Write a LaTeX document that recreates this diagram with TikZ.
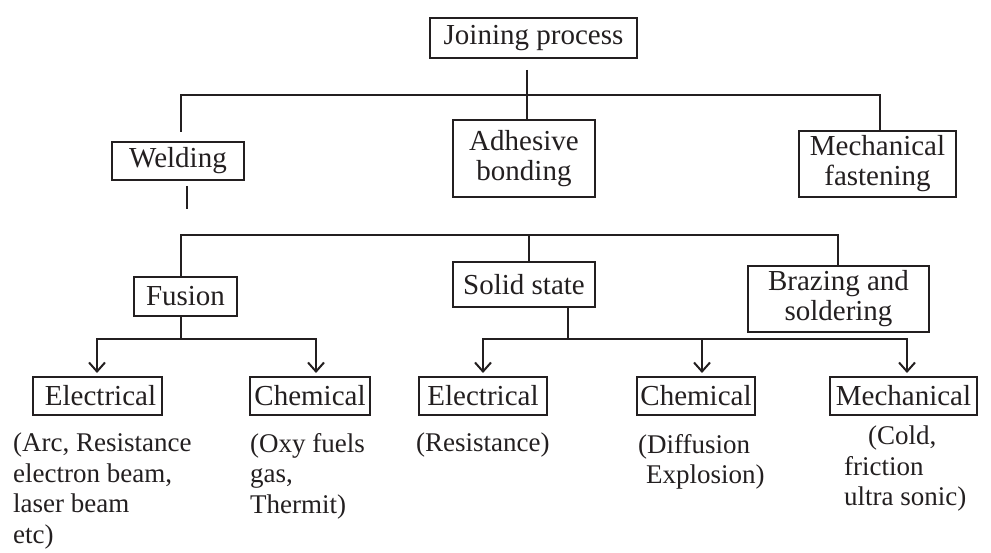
\documentclass[tikz,border=0pt]{standalone}
\usepackage{fontspec}
\setmainfont{Liberation Serif}
\usetikzlibrary{arrows.meta}
\definecolor{ink}{RGB}{35,31,32}
\begin{document}
\begin{tikzpicture}[x=1pt,y=-1pt,
  box/.style={draw=ink, line width=2pt, inner sep=0pt, align=center,
    font=\fontsize{29}{30}\selectfont, text=ink},
  desc/.style={inner sep=0pt, align=left, anchor=north west,
    font=\fontsize{27}{30.5}\selectfont, text=ink},
  link/.style={draw=ink, line width=2pt},
  arr/.style={link, -{Straight Barb[length=9pt,width=16pt,line width=2pt]}, shorten >=3pt}]
\useasboundingbox (0,0) rectangle (991,553);

% level 0
\node[box, minimum width=207pt, minimum height=40pt] (join) at (533.5,38) {Joining process};
% level 1
\node[box, minimum width=132pt, minimum height=38pt] (weld) at (178,161) {Welding};
\node[box, minimum width=142pt, minimum height=77pt] (adh) at (524,158.5) {Adhesive\\bonding};
\node[box, minimum width=157pt, minimum height=66pt] (mech) at (877.5,164) {Mechanical\\fastening};
% level 2
\node[box, minimum width=103pt, minimum height=39pt] (fus) at (185.5,296.5) {Fusion};
\node[box, minimum width=142pt, minimum height=45pt] (sol) at (524,284.5) {Solid state};
\node[box, minimum width=181pt, minimum height=66pt] (braz) at (838.5,299) {Brazing and\\soldering};
% level 3
\node[box, minimum width=129pt, minimum height=38pt] (el1) at (97.5,396) {\hspace*{6pt}Electrical};
\node[box, minimum width=120pt, minimum height=38pt] (ch1) at (310,396) {Chemical};
\node[box, minimum width=128pt, minimum height=38pt] (el2) at (483,396) {Electrical};
\node[box, minimum width=118pt, minimum height=38pt] (ch2) at (696,396) {Chemical};
\node[box, minimum width=147pt, minimum height=38pt] (mec) at (903.5,396) {Mechanical};

% descriptions
\node[desc] (d1) at (13,433) {(Arc, Resistance\\electron beam,\\laser beam\\etc)};
\node[desc] (d2) at (250,433) {(Oxy fuels\\gas,\\Thermit)};
\node[desc] (d3) at (416,433) {(Resistance)};
\node[desc] (d4) at (638,434) {(Diffusion\\\hspace*{8pt}Explosion)};
\node[desc] (d5) at (844,426) {\hspace*{24pt}(Cold,\\friction\\ultra sonic)};

% connectors, level 0 -> 1
\coordinate (jtop) at (527,70);
\coordinate (bar1) at (527,95);
\coordinate (b1L) at (181,95);
\coordinate (b1R) at (880,95);
\coordinate (wtop) at (181,132);
\draw[link] (jtop) -- (bar1);
\draw[link] (wtop) -- (b1L) -- (b1R) -- (b1R |- mech.north);
\draw[link] (bar1) -- (bar1 |- adh.north);

% stub below welding
\coordinate (ws1) at (187,186);
\coordinate (ws2) at (187,209);
\draw[link] (ws1) -- (ws2);

% level 1 -> 2
\coordinate (b2L) at (181,235);
\coordinate (b2M) at (529,235);
\coordinate (b2R) at (838,235);
\draw[link] (b2L |- fus.north) -- (b2L) -- (b2R) -- (b2R |- braz.north);
\draw[link] (b2M) -- (b2M |- sol.north);

% fusion -> children
\coordinate (fx) at (181,339);
\coordinate (fL) at (97,339);
\coordinate (fR) at (316,339);
\draw[link] (fx |- fus.south) -- (fx);
\draw[arr] (fx) -- (fL) -- (fL |- el1.north);
\draw[arr] (fx) -- (fR) -- (fR |- ch1.north);

% solid state -> children
\coordinate (sx) at (568,339);
\coordinate (sL) at (483,339);
\coordinate (sM) at (702,339);
\coordinate (sR) at (907,339);
\draw[link] (sx |- sol.south) -- (sx);
\draw[arr] (sx) -- (sL) -- (sL |- el2.north);
\draw[arr] (sx) -- (sR) -- (sR |- mec.north);
\draw[arr] (sM) -- (sM |- ch2.north);
\end{tikzpicture}
\end{document}
